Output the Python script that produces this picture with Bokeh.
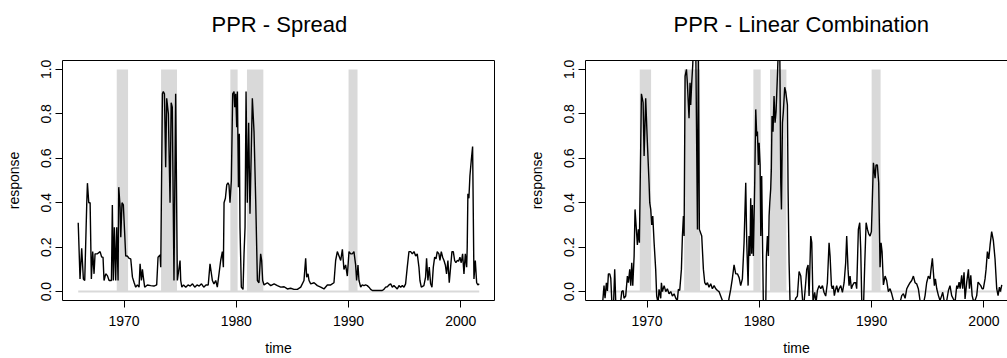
from bokeh.plotting import figure
from bokeh.layouts import row
from bokeh.models import (Range1d, FixedTicker, PrintfTickFormatter, LinearAxis,
                          Title, ColumnDataSource)
from bokeh.embed import file_html
from bokeh.resources import INLINE

# ---------------- data ----------------
rec_start = [1969.35, 1973.30, 1979.47, 1980.95, 1990.00]
rec_end = [1970.36, 1974.72, 1980.12, 1982.41, 1990.80]
rec_top = [1.0, 1.0, 1.0, 1.0, 1.0]
rec_bottom = [0.0, 0.0, 0.0, 0.0, 0.0]

spread_t = [1965.92, 1966.08, 1966.23, 1966.38, 1966.50, 1966.68, 1966.74, 1966.86, 1966.98,
            1967.09, 1967.21, 1967.33, 1967.42, 1967.63, 1967.87, 1968.01, 1968.13, 1968.22,
            1968.37, 1968.52, 1968.67, 1968.88, 1968.96, 1969.05, 1969.14, 1969.26, 1969.35,
            1969.47, 1969.53, 1969.65, 1969.71, 1969.82, 1969.94, 1970.06, 1970.15, 1970.30,
            1970.45, 1970.60, 1970.75, 1970.89, 1971.04, 1971.19, 1971.34, 1971.43, 1971.55,
            1971.64, 1971.72, 1971.84, 1972.08, 1972.38, 1972.67, 1972.91, 1973.03, 1973.21,
            1973.27, 1973.42, 1973.50, 1973.60, 1973.71, 1973.80, 1973.95, 1974.10, 1974.20,
            1974.30, 1974.45, 1974.60, 1974.75, 1974.99, 1975.05, 1975.15, 1975.30, 1975.50,
            1975.70, 1975.90, 1976.10, 1976.30, 1976.50, 1976.70, 1976.90, 1977.10, 1977.30,
            1977.50, 1977.66, 1977.87, 1978.01, 1978.17, 1978.31, 1978.46, 1978.61, 1978.76,
            1978.85, 1978.91, 1979.03, 1979.15, 1979.26, 1979.35, 1979.44, 1979.56, 1979.68,
            1979.80, 1979.86, 1979.95, 1980.04, 1980.10, 1980.19, 1980.27, 1980.33, 1980.45,
            1980.60, 1980.69, 1980.78, 1980.87, 1980.98, 1981.10, 1981.22, 1981.43, 1981.58,
            1981.73, 1981.88, 1982.02, 1982.17, 1982.26, 1982.35, 1982.47, 1982.77, 1983.07,
            1983.37, 1983.66, 1983.96, 1984.26, 1984.55, 1984.84, 1985.14, 1985.44, 1985.74,
            1986.03, 1986.18, 1986.27, 1986.39, 1986.48, 1986.63, 1986.93, 1987.22, 1987.52,
            1987.81, 1988.11, 1988.41, 1988.70, 1988.85, 1989.00, 1989.15, 1989.30, 1989.45,
            1989.59, 1989.74, 1989.89, 1990.04, 1990.19, 1990.33, 1990.48, 1990.63, 1990.72,
            1990.84, 1990.93, 1991.08, 1991.22, 1991.37, 1991.52, 1991.67, 1991.82, 1991.97,
            1992.12, 1992.41, 1992.71, 1993.00, 1993.15, 1993.30, 1993.45, 1993.60, 1993.75,
            1993.90, 1994.04, 1994.19, 1994.34, 1994.49, 1994.64, 1994.79, 1994.94, 1995.08,
            1995.23, 1995.38, 1995.53, 1995.68, 1995.83, 1995.98, 1996.12, 1996.27, 1996.36,
            1996.48, 1996.71, 1996.86, 1996.95, 1997.07, 1997.19, 1997.31, 1997.43, 1997.55,
            1997.67, 1997.79, 1997.90, 1998.05, 1998.14, 1998.26, 1998.38, 1998.50, 1998.62,
            1998.73, 1998.85, 1998.97, 1999.09, 1999.21, 1999.33, 1999.45, 1999.56, 1999.68,
            1999.80, 1999.92, 2000.04, 2000.16, 2000.28, 2000.40, 2000.52, 2000.57, 2000.63,
            2000.72, 2000.81, 2000.93, 2001.05, 2001.17, 2001.29, 2001.41, 2001.52, 2001.64]
spread_y = [0.31, 0.057, 0.195, 0.057, 0.05, 0.395, 0.488, 0.40, 0.40,
            0.057, 0.18, 0.08, 0.17, 0.17, 0.18, 0.155, 0.155, 0.05,
            0.08, 0.072, 0.05, 0.05, 0.39, 0.05, 0.29, 0.05, 0.29,
            0.05, 0.47, 0.38, 0.245, 0.40, 0.39, 0.26, 0.16, 0.16,
            0.15, 0.147, 0.065, 0.042, 0.02, 0.03, 0.02, 0.125, 0.05,
            0.10, 0.065, 0.02, 0.03, 0.027, 0.025, 0.03, 0.155, 0.165,
            0.11, 0.89, 0.90, 0.89, 0.56, 0.87, 0.80, 0.40, 0.85,
            0.83, 0.05, 0.89, 0.05, 0.14, 0.05, 0.02, 0.03, 0.02,
            0.03, 0.025, 0.035, 0.02, 0.03, 0.025, 0.035, 0.02, 0.03,
            0.03, 0.125, 0.05, 0.035, 0.05, 0.02, 0.08, 0.14, 0.18,
            0.11, 0.40, 0.42, 0.48, 0.49, 0.48, 0.40, 0.50, 0.89,
            0.90, 0.83, 0.89, 0.74, 0.90, 0.47, 0.71, 0.29, 0.02,
            0.01, 0.17, 0.29, 0.90, 0.40, 0.76, 0.35, 0.87, 0.72,
            0.41, 0.05, 0.04, 0.17, 0.14, 0.05, 0.03, 0.04, 0.027,
            0.035, 0.027, 0.02, 0.022, 0.012, 0.015, 0.01, 0.01, 0.02,
            0.05, 0.15, 0.065, 0.08, 0.05, 0.035, 0.04, 0.027, 0.02,
            0.012, 0.03, 0.03, 0.04, 0.14, 0.18, 0.16, 0.14, 0.19,
            0.10, 0.12, 0.07, 0.18, 0.17, 0.17, 0.18, 0.12, 0.05,
            0.12, 0.05, 0.02, 0.03, 0.027, 0.03, 0.027, 0.02, 0.01,
            0.005, 0.005, 0.005, 0.005, 0.01, 0.02, 0.022, 0.03, 0.035,
            0.02, 0.027, 0.02, 0.012, 0.027, 0.02, 0.027, 0.02, 0.035,
            0.11, 0.18, 0.18, 0.17, 0.18, 0.16, 0.17, 0.11, 0.05,
            0.02, 0.027, 0.065, 0.15, 0.05, 0.11, 0.035, 0.02, 0.11,
            0.155, 0.147, 0.18, 0.17, 0.14, 0.18, 0.155, 0.14, 0.12,
            0.08, 0.14, 0.04, 0.11, 0.18, 0.18, 0.14, 0.13, 0.14,
            0.137, 0.155, 0.13, 0.17, 0.08, 0.17, 0.11, 0.20, 0.44,
            0.42, 0.52, 0.59, 0.653, 0.057, 0.14, 0.04, 0.03, 0.035]

lincomb_t = [1966.03, 1966.17, 1966.26, 1966.38, 1966.47, 1966.56, 1966.68, 1966.77, 1966.86,
             1967.01, 1967.12, 1967.21, 1967.36, 1967.57, 1967.75, 1967.87, 1967.95, 1968.10,
             1968.25, 1968.34, 1968.46, 1968.55, 1968.64, 1968.73, 1968.85, 1968.93, 1969.05,
             1969.14, 1969.23, 1969.32, 1969.50, 1969.65, 1969.74, 1969.88, 1970.03, 1970.18,
             1970.24, 1970.33, 1970.42, 1970.51, 1970.63, 1970.77, 1970.86, 1970.98, 1971.07,
             1971.22, 1971.28, 1971.37, 1971.52, 1971.67, 1971.81, 1971.96, 1972.11, 1972.26,
             1972.41, 1972.56, 1972.70, 1972.79, 1972.91, 1973.06, 1973.15, 1973.24, 1973.30,
             1973.39, 1973.51, 1973.59, 1973.74, 1973.83, 1973.89, 1973.98, 1974.07, 1974.13,
             1974.25, 1974.34, 1974.49, 1974.57, 1974.66, 1974.87, 1975.02, 1975.14, 1975.26,
             1975.38, 1975.52, 1975.67, 1975.82, 1975.97, 1976.12, 1976.27, 1976.41, 1976.56,
             1976.71, 1976.95, 1977.22, 1977.30, 1977.45, 1977.60, 1977.75, 1977.90, 1978.05,
             1978.20, 1978.34, 1978.49, 1978.64, 1978.79, 1978.88, 1979.00, 1979.08, 1979.17,
             1979.23, 1979.32, 1979.38, 1979.47, 1979.59, 1979.68, 1979.77, 1979.83, 1979.92,
             1979.98, 1980.07, 1980.13, 1980.21, 1980.30, 1980.36, 1980.42, 1980.57, 1980.63,
             1980.72, 1980.81, 1980.87, 1980.93, 1981.01, 1981.07, 1981.13, 1981.22, 1981.31,
             1981.40, 1981.49, 1981.61, 1981.70, 1981.82, 1981.91, 1981.97, 1982.06, 1982.14,
             1982.26, 1982.35, 1982.50, 1982.56, 1982.65, 1982.74, 1982.97, 1983.24, 1983.39,
             1983.54, 1983.69, 1983.78, 1983.87, 1983.98, 1984.13, 1984.22, 1984.34, 1984.43,
             1984.58, 1984.67, 1984.78, 1984.93, 1985.05, 1985.17, 1985.32, 1985.47, 1985.62,
             1985.76, 1985.91, 1986.06, 1986.21, 1986.30, 1986.42, 1986.50, 1986.59, 1986.68,
             1986.77, 1986.89, 1987.01, 1987.10, 1987.25, 1987.40, 1987.55, 1987.69, 1987.78,
             1987.90, 1987.99, 1988.08, 1988.20, 1988.29, 1988.44, 1988.58, 1988.67, 1988.82,
             1988.94, 1989.03, 1989.12, 1989.27, 1989.39, 1989.51, 1989.63, 1989.74, 1989.86,
             1989.98, 1990.16, 1990.31, 1990.39, 1990.51, 1990.63, 1990.75, 1990.84, 1990.93,
             1991.05, 1991.20, 1991.34, 1991.49, 1991.64, 1991.79, 1991.94, 1992.24, 1992.53,
             1992.68, 1992.83, 1992.98, 1993.13, 1993.27, 1993.42, 1993.57, 1993.72, 1993.87,
             1994.01, 1994.16, 1994.31, 1994.46, 1994.61, 1994.76, 1994.90, 1995.05, 1995.20,
             1995.29, 1995.41, 1995.50, 1995.59, 1995.68, 1995.80, 1995.95, 1996.09, 1996.24,
             1996.33, 1996.48, 1996.69, 1996.84, 1996.98, 1997.13, 1997.28, 1997.43, 1997.58,
             1997.67, 1997.79, 1997.88, 1998.02, 1998.11, 1998.23, 1998.32, 1998.47, 1998.62,
             1998.71, 1998.83, 1998.95, 1999.06, 1999.21, 1999.36, 1999.48, 1999.60, 1999.72,
             1999.84, 1999.95, 2000.10, 2000.19, 2000.31, 2000.43, 2000.55, 2000.69, 2000.84,
             2000.99, 2001.14, 2001.26, 2001.38, 2001.47, 2001.59]
lincomb_y = [-0.06, 0.027, -0.03, 0.04, 0.003, 0.08, 0.08, 0.06, -0.04,
             -0.07, 0.10, -0.04, -0.08, -0.08, 0.0, 0.005, -0.03, -0.02,
             0.07, 0.04, 0.10, 0.027, 0.13, 0.027, 0.16, 0.37, 0.28,
             0.21, 0.28, 0.22, 0.89, 0.85, 0.61, 0.87, 0.67, 0.49,
             0.40, 0.37, 0.30, 0.34, 0.22, 0.10, -0.02, -0.05, 0.01,
             -0.03, 0.04, 0.0, 0.027, 0.0, 0.013, -0.01, 0.0, -0.02,
             -0.01, -0.03, -0.04, 0.01, 0.005, 0.10, 0.25, 0.34, 0.25,
             0.97, 1.0, 0.94, 0.78, 0.94, 0.84, 0.94, 1.02, 1.10,
             1.10, 1.10, 0.28, 1.10, 0.28, 0.25, 0.10, 0.04, 0.03,
             0.04, 0.02, 0.035, 0.013, 0.027, 0.013, 0.005, 0.0, -0.02,
             -0.04, -0.06, -0.06, -0.03, 0.01, 0.06, 0.12, 0.08, 0.08,
             0.063, 0.027, 0.057, 0.22, 0.49, 0.22, 0.027, 0.25, 0.16,
             0.42, 0.17, 0.39, 0.16, 0.49, 0.82, 0.70, 0.72, 0.57,
             0.67, 0.57, 0.25, 0.52, 0.16, -0.06, -0.08, -0.08, 0.16,
             0.25, 0.16, 0.34, 0.40, 0.46, 0.55, 0.79, 0.72, 0.88,
             0.76, 0.81, 0.97, 1.10, 1.10, 0.49, 0.37, 0.76, 0.81,
             0.92, 0.90, 0.84, 0.46, 0.13, -0.06, -0.08, -0.03, -0.02,
             0.09, 0.07, 0.01, -0.05, -0.05, 0.04, 0.10, 0.12, -0.02,
             0.25, 0.22, -0.05, -0.003, -0.05, 0.005, 0.027, 0.013, 0.027,
             -0.003, -0.02, 0.04, 0.22, 0.16, 0.027, 0.013, 0.027, -0.018,
             0.005, 0.027, -0.003, 0.013, 0.027, -0.003, 0.04, 0.13, 0.25,
             0.10, 0.027, 0.07, 0.013, 0.027, 0.04, 0.04, 0.013, 0.28,
             0.31, 0.19, -0.04, -0.08, 0.13, 0.31, 0.28, 0.26, 0.25,
             0.27, 0.58, 0.51, 0.57, 0.57, 0.49, 0.11, 0.22, 0.18,
             0.03, 0.07, 0.05, 0.0, 0.013, -0.01, -0.04, -0.06, -0.05,
             -0.018, -0.01, -0.03, 0.013, 0.027, 0.04, 0.05, 0.07, 0.04,
             0.035, 0.013, -0.04, -0.06, -0.055, -0.018, 0.04, 0.07, 0.057,
             0.10, 0.15, 0.087, 0.027, 0.057, 0.013, -0.018, -0.04, -0.018,
             -0.003, -0.048, -0.04, 0.005, 0.027, -0.018, -0.033, -0.048, 0.027,
             0.013, 0.043, 0.013, 0.073, 0.013, 0.087, -0.033, 0.043, 0.10,
             0.013, 0.073, -0.018, -0.04, -0.04, -0.018, 0.043, 0.035, 0.027,
             0.013, 0.013, 0.057, 0.10, 0.18, 0.147, 0.21, 0.27, 0.23,
             0.147, 0.013, -0.018, 0.02, 0.0, 0.03]

x_ticks = [1970, 1980, 1990, 2000]
y_ticks = [0.0, 0.2, 0.4, 0.6, 0.8, 1.0]

FONT = "Liberation Sans"
H = 358


def make_panel(title, t, y, width, left_border, right_border, x_end, right_box, title_offset):
    p = figure(width=width, height=H, output_backend="svg", toolbar_location=None,
               x_range=Range1d(1964.52, x_end), y_range=Range1d(-0.04, 1.04),
               min_border_left=left_border, min_border_right=right_border,
               min_border_top=60, min_border_bottom=58,
               x_axis_location=None, y_axis_location=None)
    p.outline_line_color = None
    p.grid.visible = False
    p.background_fill_color = "white"
    p.border_fill_color = "white"

    # recession bars
    p.quad(left=rec_start, right=rec_end, bottom=rec_bottom, top=rec_top,
           fill_color="#D9D9D9", line_color=None)
    # baseline of indicator (zero)
    p.line(x=[t[0], t[-1]], y=[0, 0], line_color="#D9D9D9", line_width=2)
    src = ColumnDataSource(dict(t=t, y=y))
    p.line("t", "y", source=src, line_color="black", line_width=1.4)

    # bottom axis
    xa = LinearAxis(ticker=FixedTicker(ticks=x_ticks))
    xa.major_tick_out = 7
    xa.major_tick_in = 0
    xa.minor_tick_out = 0
    xa.minor_tick_in = 0
    xa.major_label_standoff = 8
    xa.major_label_text_font = FONT
    xa.major_label_text_font_size = "14px"
    xa.major_label_text_color = "black"
    xa.axis_line_color = "black"
    xa.major_tick_line_color = "black"
    xa.axis_label = "time"
    xa.axis_label_text_font = FONT
    xa.axis_label_text_font_size = "14px"
    xa.axis_label_text_font_style = "normal"
    xa.axis_label_text_color = "black"
    xa.axis_label_standoff = 11
    p.add_layout(xa, "below")

    # left axis
    ya = LinearAxis(ticker=FixedTicker(ticks=y_ticks), formatter=PrintfTickFormatter(format="%.1f"))
    ya.major_tick_out = 7
    ya.major_tick_in = 0
    ya.minor_tick_out = 0
    ya.minor_tick_in = 0
    ya.major_label_standoff = 4
    ya.major_label_orientation = "vertical"
    ya.major_label_text_font = FONT
    ya.major_label_text_font_size = "14px"
    ya.major_label_text_color = "black"
    ya.axis_label = "response"
    ya.axis_label_text_font = FONT
    ya.axis_label_text_font_size = "14px"
    ya.axis_label_text_font_style = "normal"
    ya.axis_label_text_color = "black"
    ya.axis_label_standoff = 17
    p.add_layout(ya, "left")

    # box lines (top / right)
    top = LinearAxis(ticker=FixedTicker(ticks=[]))
    top.major_label_text_font_size = "0px"
    top.major_tick_out = 0
    top.minor_tick_out = 0
    top.major_label_standoff = 0
    p.add_layout(top, "above")
    if right_box:
        rt = LinearAxis(ticker=FixedTicker(ticks=[]))
        rt.major_label_text_font_size = "0px"
        rt.major_tick_out = 0
        rt.minor_tick_out = 0
        rt.major_label_standoff = 0
        p.add_layout(rt, "right")

    # title: a trailing empty line lifts it above the box like R's main title
    ttl = Title(text=title + "\n", align="left", offset=title_offset, text_font=FONT,
                text_font_size="22px", text_font_style="normal", text_color="black",
                text_line_height=0.66, standoff=14)
    p.add_layout(ttl, "above")
    return p


p1 = make_panel("PPR - Spread", spread_t, spread_y, 504, 62, 10, 2003.0, True, 149)
p2 = make_panel("PPR - Linear Combination", lincomb_t, lincomb_y, 503, 81, 0, 2002.1, False, 88)

layout = row(p1, p2)
open("out.html", "w").write(file_html(layout, INLINE))
